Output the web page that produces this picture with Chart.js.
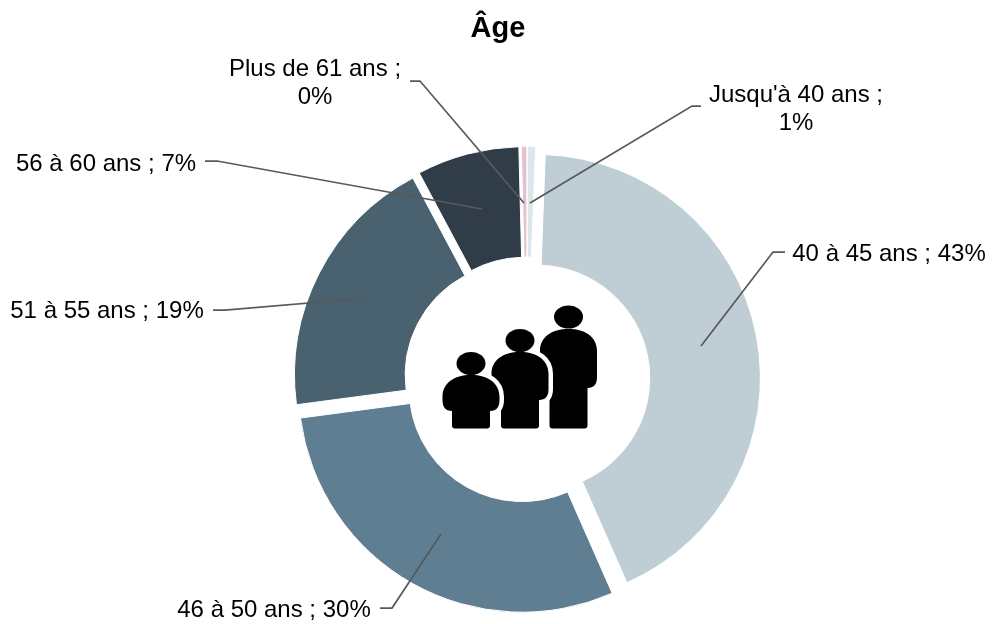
<!DOCTYPE html>
<html><head><meta charset="utf-8">
<style>html,body{margin:0;padding:0;background:#fff;overflow:hidden}#w{position:absolute;left:0;top:0;width:996px;height:624px}</style>
<script src="https://cdn.jsdelivr.net/npm/chart.js@4/dist/chart.umd.min.js"></script>
</head><body><div id="w"><canvas id="c" width="996" height="624"></canvas></div>
<script>
const categories = ["Jusqu'à 40 ans","40 à 45 ans","46 à 50 ans","51 à 55 ans","56 à 60 ans","Plus de 61 ans"];
const values = [0.6,42.8,29.5,19.3,7.4,0.4];
const colors = ["#dfe6ea","#bfcdd4","#5f7e92","#4a6270","#303d48","#e3c2cf"];
const labelLines = [["Jusqu'à 40 ans ;","1%"],["40 à 45 ans ; 43%"],["46 à 50 ans ; 30%"],["51 à 55 ans ; 19%"],["56 à 60 ans ; 7%"],["Plus de 61 ans ;","0%"]];
const labelPos = [[796,95],[889,254],[274,610],[107,311],[106,164],[315,69]];
const leaders = [
 [[701,106],[692,106],[530,203]],
 [[785,252],[773,252],[701,346]],
 [[380,608],[392,608],[441,534]],
 [[213,310],[225,310],[368,298]],
 [[205,161],[217,161],[482,209]],
 [[410,81],[420,81],[524,203]]
];
const explode = 10;
const people = [
 {cx:568.5,hy:317,hrx:14.5,hry:11.5,top:329,w:57,sb:388,lw:38},
 {cx:520,hy:340.5,hrx:14.5,hry:11.5,top:352,w:57,sb:400,lw:38},
 {cx:471,hy:363.5,hrx:14.5,hry:11.5,top:375,w:57,sb:411,lw:38}
];
const feet = 428.5;
function bodyPath(ctx,p){
 const l=p.cx-p.w/2,R=p.cx+p.w/2,ll=p.cx-p.lw/2,lr=p.cx+p.lw/2,s=p.top+22;
 ctx.beginPath();
 ctx.moveTo(l,s);
 ctx.bezierCurveTo(l,p.top+8,p.cx-17,p.top,p.cx,p.top);
 ctx.bezierCurveTo(p.cx+17,p.top,R,p.top+8,R,s);
 ctx.lineTo(R,Math.max(p.sb-11,s));
 ctx.quadraticCurveTo(R,p.sb,lr,p.sb);
 ctx.lineTo(lr,feet-3);
 ctx.quadraticCurveTo(lr,feet,lr-3,feet);
 ctx.lineTo(ll+3,feet);
 ctx.quadraticCurveTo(ll,feet,ll,feet-3);
 ctx.lineTo(ll,p.sb);
 ctx.quadraticCurveTo(l,p.sb,l,Math.max(p.sb-11,s));
 ctx.closePath();
}
const decor = {
 id:'decor',
 afterLayout(chart){ chart.titleBlock.left=0; chart.titleBlock.right=996; },
 afterDatasetsUpdate(chart){
  chart.getDatasetMeta(0).data.forEach(a=>{
   const m=(a.startAngle+a.endAngle)/2;
   a.x+=Math.cos(m)*explode; a.y+=Math.sin(m)*explode;
  });
 },
 afterDraw(chart){
  const ctx=chart.ctx; ctx.save();
  ctx.strokeStyle='#595959'; ctx.lineWidth=1.75;
  leaders.forEach(pts=>{ctx.beginPath();pts.forEach((q,i)=>i?ctx.lineTo(q[0],q[1]):ctx.moveTo(q[0],q[1]));ctx.stroke();});
  ctx.fillStyle='#000'; ctx.font='24px "Liberation Sans"'; ctx.textAlign='center'; ctx.textBaseline='middle';
  labelLines.forEach((ls,i)=>ls.forEach((t,j)=>ctx.fillText(t,labelPos[i][0],labelPos[i][1]+j*28)));
  people.forEach(p=>{
   bodyPath(ctx,p); ctx.strokeStyle='#fff'; ctx.lineWidth=9; ctx.lineJoin='round'; ctx.stroke();
   ctx.fillStyle='#000'; ctx.fill();
   ctx.beginPath(); ctx.ellipse(p.cx,p.hy,p.hrx,p.hry,0,0,Math.PI*2); ctx.fill();
  });
  ctx.restore();
 }
};
new Chart(document.getElementById('c'),{
 type:'doughnut',
 plugins:[decor],
 data:{labels:categories,datasets:[{data:values,backgroundColor:colors,borderColor:'#fff',borderWidth:1,offset:0,hoverOffset:0}]},
 options:{responsive:false,animation:false,cutout:'50.5%',
  layout:{padding:{left:302.5,right:244.5,top:0,bottom:20}},
  plugins:{legend:{display:false},tooltip:{enabled:false},
   title:{display:true,text:'Âge',color:'#000',font:{family:'"Liberation Sans"',size:29,weight:'bold'},padding:{top:12,bottom:109}}}
 }
});
</script></body></html>
